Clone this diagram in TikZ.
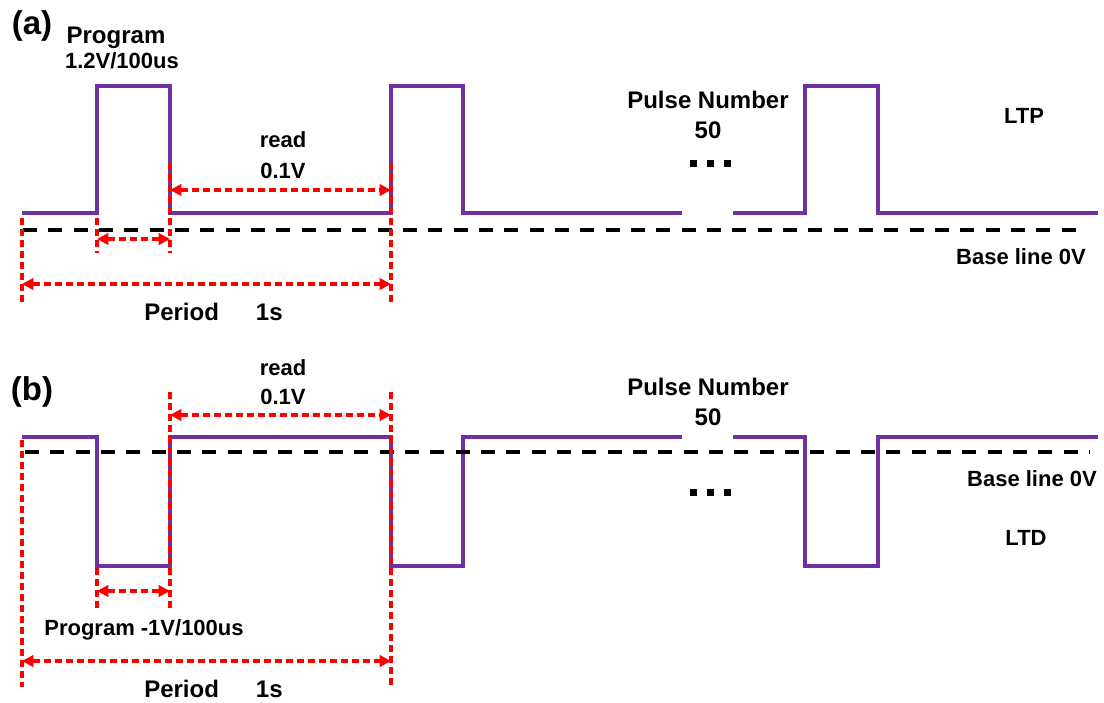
\documentclass[tikz,border=0pt]{standalone}
\usepackage{fontspec}
\setmainfont{Liberation Sans}
\usetikzlibrary{arrows.meta}
\definecolor{wavepurple}{HTML}{7030A0}
\definecolor{guidered}{HTML}{FF0000}
\begin{document}
\begin{tikzpicture}[x=0.75pt,y=-0.75pt,
  wave/.style={draw=wavepurple, line width=3.6pt, line join=miter, line cap=butt},
  baseline0/.style={draw=black, line width=2.6pt, dash pattern=on 10.5pt off 8.5pt},
  guide/.style={draw=guidered, line width=2.5pt, dash pattern=on 5.25pt off 3pt},
  span/.style={guide, {Triangle[length=8.5pt,width=8.5pt]}-{Triangle[length=8.5pt,width=8.5pt]}},
  lbl/.style={font=\bfseries\fontsize{16.5}{18}\selectfont, inner sep=0pt, anchor=base},
  biglbl/.style={lbl, font=\bfseries\fontsize{18}{20}\selectfont},
  tag/.style={font=\bfseries\fontsize{24.75}{28}\selectfont, inner sep=0pt, anchor=center},
  dotbox/.style={fill=black, draw=none, minimum size=5.25pt, inner sep=0pt}]
\useasboundingbox (0,0) rectangle (1104,703);

% ---------------- (a) LTP ----------------
\draw[wave] (22,213) -- (97,213) -- (97,86) -- (170,86) -- (170,213) -- (391,213)
  -- (391,86) -- (463,86) -- (463,213) -- (682,213);
\draw[wave] (733,213) -- (805,213) -- (805,86) -- (878,86) -- (878,213) -- (1098,213);

\coordinate (a0s) at (23,230); \coordinate (a0e) at (1085,230);
\draw[baseline0] (a0s) -- (a0e);

\coordinate (aL1) at (22,218);  \coordinate (aL2) at (22,305);
\coordinate (aP1) at (97,218);  \coordinate (aP2) at (97,253);
\coordinate (aQ1) at (170,163); \coordinate (aQ2) at (170,253);
\coordinate (aR1) at (391,163); \coordinate (aR2) at (391,305);
\draw[guide] (aL1) -- (aL2);
\draw[guide] (aP1) -- (aP2);
\draw[guide] (aQ1) -- (aQ2);
\draw[guide] (aR1) -- (aR2);

\coordinate (aRd1) at (170,190); \coordinate (aRd2) at (391,190);
\coordinate (aPg1) at (97,239);  \coordinate (aPg2) at (170,239);
\coordinate (aPd1) at (22,284);  \coordinate (aPd2) at (391,284);
\draw[span] (aRd1) -- (aRd2);
\draw[span] (aPg1) -- (aPg2);
\draw[span] (aPd1) -- (aPd2);

\node[tag] (atag) at (32,26) {(a)};
\node[biglbl] (aprog) at (116,43) {Program};
\node[lbl] (aprogv) at (122,68) {1.2V/100us};
\node[lbl] (aread) at (283,147) {read};
\node[lbl] (areadv) at (283,178) {0.1V};
\node[biglbl] (aper) at (213.5,320) {Period\hspace{27.75pt}1s};
\node[biglbl] (apn) at (708,108) {Pulse Number};
\node[biglbl] (apnv) at (708,138) {50};
\node[dotbox] (ad1) at (693,163) {};
\node[dotbox] (ad2) at (710,163) {};
\node[dotbox] (ad3) at (727,163) {};
\node[lbl] (altp) at (1024,123) {LTP};
\node[lbl] (abase) at (1021,264) {Base line 0V};

% ---------------- (b) LTD ----------------
\draw[wave] (22,437) -- (97,437) -- (97,566) -- (170,566) -- (170,437) -- (391,437)
  -- (391,566) -- (463,566) -- (463,437) -- (682,437);
\draw[wave] (733,437) -- (805,437) -- (805,566) -- (878,566) -- (878,437) -- (1098,437);

\coordinate (b0s) at (25,452); \coordinate (b0e) at (1090,452);
\draw[baseline0] (b0s) -- (b0e);

\coordinate (bL1) at (22,440);  \coordinate (bL2) at (22,687);
\coordinate (bP1) at (97,568);  \coordinate (bP2) at (97,608);
\coordinate (bQ1) at (170,392); \coordinate (bQ2) at (170,608);
\coordinate (bR1) at (391,392); \coordinate (bR2) at (391,688);
\draw[guide] (bL1) -- (bL2);
\draw[guide] (bP1) -- (bP2);
\draw[guide] (bQ1) -- (bQ2);
\draw[guide] (bR1) -- (bR2);

\coordinate (bRd1) at (170,415); \coordinate (bRd2) at (391,415);
\coordinate (bPg1) at (97,591);  \coordinate (bPg2) at (170,591);
\coordinate (bPd1) at (22,661);  \coordinate (bPd2) at (391,661);
\draw[span] (bRd1) -- (bRd2);
\draw[span] (bPg1) -- (bPg2);
\draw[span] (bPd1) -- (bPd2);

\node[tag] (btag) at (32,392) {(b)};
\node[lbl] (bread) at (283,375) {read};
\node[lbl] (breadv) at (283,404) {0.1V};
\node[lbl] (bprog) at (144,635) {Program -1V/100us};
\node[biglbl] (bper) at (213.5,697) {Period\hspace{27.75pt}1s};
\node[biglbl] (bpn) at (708,395) {Pulse Number};
\node[biglbl] (bpnv) at (708,425) {50};
\node[dotbox] (bd1) at (693,492) {};
\node[dotbox] (bd2) at (710,492) {};
\node[dotbox] (bd3) at (727,492) {};
\node[lbl] (bbase) at (1032,486) {Base line 0V};
\node[lbl] (bltd) at (1026,545) {LTD};
\end{tikzpicture}
\end{document}
